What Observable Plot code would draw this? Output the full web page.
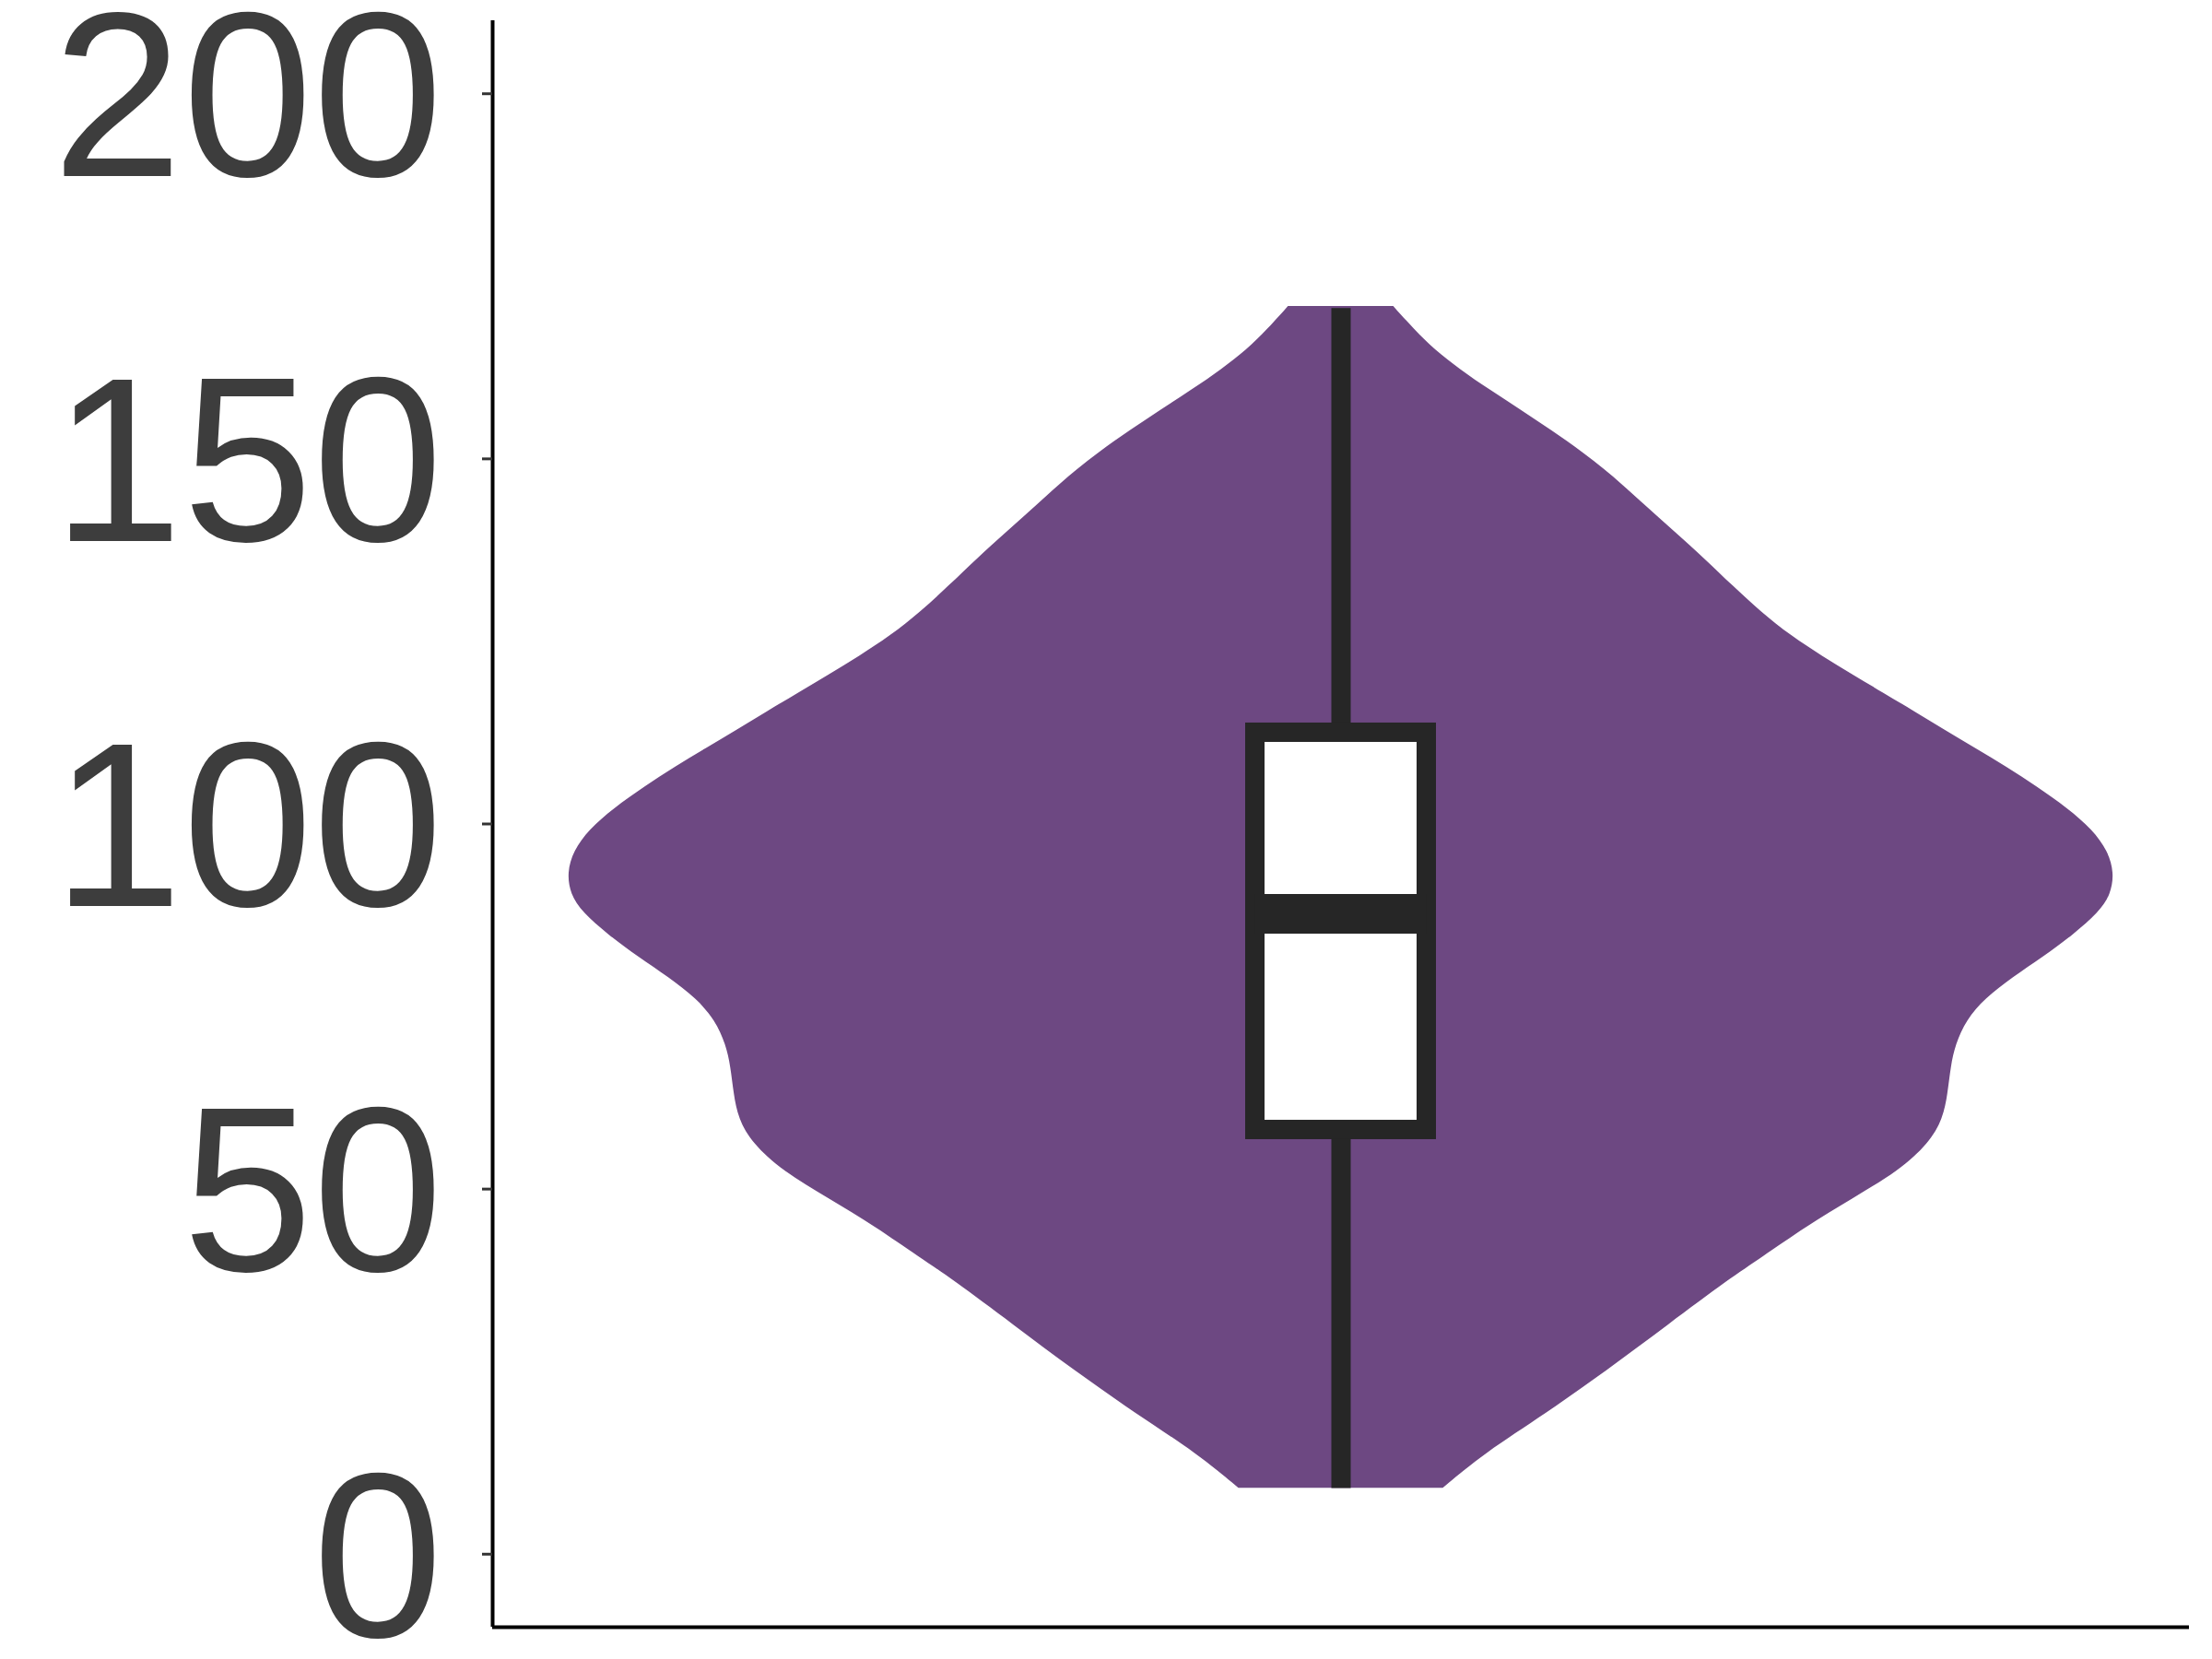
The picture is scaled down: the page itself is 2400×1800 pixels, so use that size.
<!DOCTYPE html>
<html>
<head>
<meta charset="utf-8">
<script src="https://cdn.jsdelivr.net/npm/d3@7"></script>
<script src="https://cdn.jsdelivr.net/npm/@observablehq/plot@0.6"></script>
<style>
  html, body { margin: 0; padding: 0; background: #ffffff; }
  #chart svg { display: block; }
  #chart svg, #chart svg text { font-family: "Liberation Sans", Arial, Helvetica, sans-serif !important; }
</style>
</head>
<body>
<div id="chart"></div>
<script>
// Violin outline: value (y) and relative kernel density (half-width, max ≈ 1)
const violinValues  = [9.03, 13.74, 19.22, 25.10, 31.41, 37.73, 40.47, 44.89, 48.67, 52.46, 56.25, 59.62, 62.98, 66.77, 69.72, 73.08, 76.04, 78.98, 81.72, 84.87, 87.82, 90.34, 93.28, 96.24, 99.18, 102.12, 105.08, 107.80, 110.33, 112.85, 115.38, 117.90, 120.43, 122.95, 125.69, 129.07, 132.6, 136.21, 140.0, 143.79, 147.58, 150.95, 153.89, 156.63, 159.37, 162.31, 164.84, 167.78, 170.86];
const violinDensity = [0.132, 0.185, 0.265, 0.344, 0.423, 0.503, 0.542, 0.602, 0.661, 0.721, 0.760, 0.778, 0.784, 0.788, 0.794, 0.808, 0.832, 0.868, 0.907, 0.947, 0.979, 0.995, 0.999, 0.991, 0.971, 0.939, 0.899, 0.860, 0.820, 0.780, 0.741, 0.701, 0.661, 0.622, 0.582, 0.542, 0.506, 0.471, 0.431, 0.391, 0.352, 0.312, 0.272, 0.233, 0.193, 0.153, 0.122, 0.094, 0.068];

// Box plot summary
const boxStats = ["min", "q1", "median", "q3", "max"];
const boxValues = [9.0, 58.1, 87.7, 112.5, 170.6];

// Axis ticks
const yTicks = [0, 50, 100, 150, 200];
const yTickLabels = ["0", "50", "100", "150", "200"];

const violin = violinValues.map((v, i) => ({value: v, density: violinDensity[i]}));
const stat = Object.fromEntries(boxStats.map((k, i) => [k, boxValues[i]]));

const D = 1.0958;       // x half-extent in density units
const boxHalf = 0.1107; // box half-width in density units
const yDomain = [-10, 210];
const dark = "#262626";

const chart = Plot.plot({
  width: 2400,
  height: 1800,
  marginLeft: 534,
  marginRight: 25,
  marginTop: 22,
  marginBottom: 35,
  style: {fontFamily: "Liberation Sans, Arial, sans-serif", background: "#ffffff"},
  x: {domain: [-D, D], axis: null},
  y: {domain: yDomain},
  marks: [
    Plot.areaX(violin, {
      y: "value",
      x1: d => -d.density,
      x2: "density",
      curve: "basis",
      fill: "#6d4882"
    }),
    Plot.ruleX([0], {y1: stat.min, y2: stat.max, stroke: dark, strokeWidth: 21}),
    Plot.rect([stat], {
      x1: -boxHalf, x2: boxHalf,
      y1: "q1", y2: "q3",
      fill: "#ffffff", stroke: dark, strokeWidth: 21
    }),
    Plot.ruleY([stat.median], {x1: -boxHalf, x2: boxHalf, stroke: dark, strokeWidth: 43}),
    Plot.ruleX([-D], {y1: yDomain[0], y2: yDomain[1], stroke: "#000000", strokeWidth: 4}),
    Plot.ruleY([yDomain[0]], {x1: -D, x2: D, stroke: "#000000", strokeWidth: 4}),
    // tick marks
    Plot.axisY({
      ticks: yTicks,
      tickFormat: () => "",
      tickSize: 11,
      strokeWidth: 3,
      stroke: "#333333",
      label: null
    }),
    // tick labels
    Plot.axisY({
      ticks: yTicks,
      tickFormat: d => yTickLabels[yTicks.indexOf(d)],
      tickSize: 0,
      tickPadding: 54,
      fontSize: 254,
      fill: "#3d3d3d",
      dy: 8,
      label: null
    })
  ]
});

document.getElementById("chart").appendChild(chart);
</script>
</body>
</html>
